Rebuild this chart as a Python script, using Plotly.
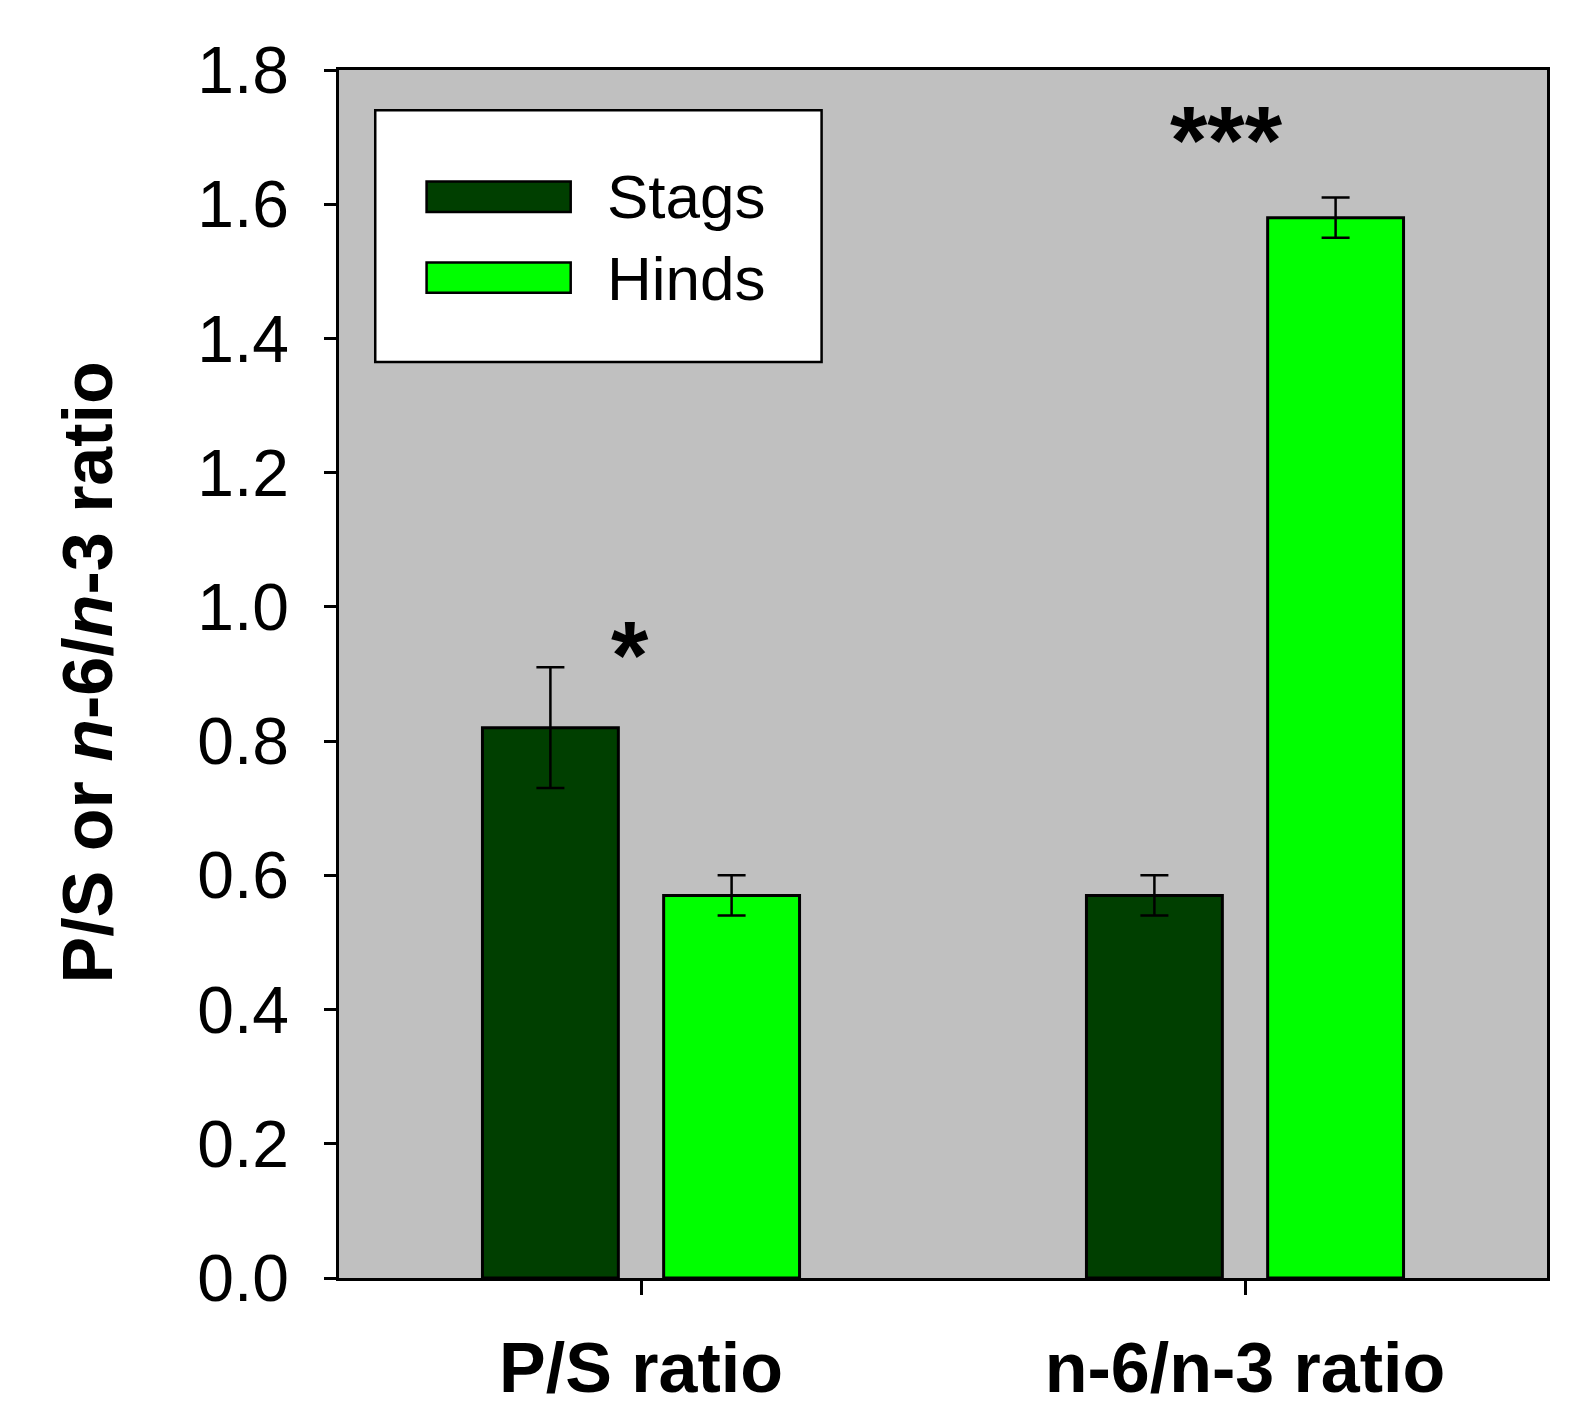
import plotly.graph_objects as go

categories = ["P/S ratio", "n-6/n-3 ratio"]
stags = [0.82, 0.57]
stags_err = [0.09, 0.03]
hinds = [0.57, 1.58]
hinds_err = [0.03, 0.03]
series_names = ["Stags", "Hinds"]
sig_labels = ["*", "***"]
sig_y = [0.945, 1.713]
sig_dx = [-0.018, -0.03]
yticks = [0.0, 0.2, 0.4, 0.6, 0.8, 1.0, 1.2, 1.4, 1.6, 1.8]

DARK = "#003F00"
LIGHT = "#00FF00"
FONT = "Liberation Sans, Arial, sans-serif"

fig = go.Figure()
for name, vals, errs, col in [("Stags", stags, stags_err, DARK), ("Hinds", hinds, hinds_err, LIGHT)]:
    fig.add_trace(go.Bar(
        x=categories, y=vals, name=name,
        marker=dict(color=col, line=dict(color="black", width=3)),
        error_y=dict(type="data", array=errs, visible=True, color="black", thickness=2.5, width=14),
        showlegend=False,
    ))

fig.update_layout(
    width=1571, height=1396,
    margin=dict(l=331, r=32, t=62, b=126, autoexpand=False),
    paper_bgcolor="white", plot_bgcolor="#C0C0C0",
    barmode="group", bargap=0.4, bargroupgap=0.25,
    font=dict(family=FONT, color="black"),
)
fig.update_xaxes(
    range=[-0.5, 1.5], showline=True, linecolor="black", linewidth=2.5, mirror=True,
    ticks="outside", ticklen=14, tickwidth=2.5, tickcolor="black",
    tickfont=dict(size=70, family=FONT, color="black"),
    ticktext=["<b>" + c + "</b>" for c in categories], tickvals=categories,
    ticklabelstandoff=13, showgrid=False, zeroline=False, automargin=False,
)
fig.update_yaxes(
    range=[0, 1.8], tickvals=yticks, ticktext=[f"{v:.1f}" for v in yticks],
    showline=True, linecolor="black", linewidth=2.5, mirror=True,
    ticks="outside", ticklen=12, tickwidth=2.5, tickcolor="black",
    tickfont=dict(size=66, family=FONT, color="black"),
    ticklabelstandoff=22, showgrid=False, zeroline=False, automargin=False,
)

# y-axis title
fig.add_annotation(
    text="<b>P/S or <i>n</i>-6/<i>n</i>-3 ratio</b>", textangle=-90,
    xref="paper", yref="paper", x=-0.208, y=0.501, xanchor="center", yanchor="middle",
    showarrow=False, font=dict(size=70, family=FONT, color="black"),
)

# significance markers
for i, (lab, yy, dx) in enumerate(zip(sig_labels, sig_y, sig_dx)):
    fig.add_annotation(
        text="<b>" + lab + "</b>", x=i + dx, y=yy, xref="x", yref="y",
        showarrow=False, xanchor="center", yanchor="middle",
        font=dict(size=96, family=FONT, color="black"), yshift=-11,
    )

# legend (drawn manually)
fig.add_shape(type="rect", xref="paper", yref="paper", x0=0.030, x1=0.3995, y0=0.7582, y1=0.9666,
              fillcolor="white", line=dict(color="black", width=2.5), layer="above")
leg_rows = [(0.9077, 0.8824, 0.8952), (0.8406, 0.8157, 0.8273)]
for name, col, (ya, yb, yc) in zip(series_names, [DARK, LIGHT], leg_rows):
    fig.add_shape(type="rect", xref="paper", yref="paper", x0=0.0725, x1=0.1918, y0=yb, y1=ya,
                  fillcolor=col, line=dict(color="black", width=2.5), layer="above")
    fig.add_annotation(text=name, xref="paper", yref="paper", x=0.2200, y=yc,
                       xanchor="left", yanchor="middle", showarrow=False,
                       font=dict(size=62, family=FONT, color="black"))

fig.write_html("out.html")
